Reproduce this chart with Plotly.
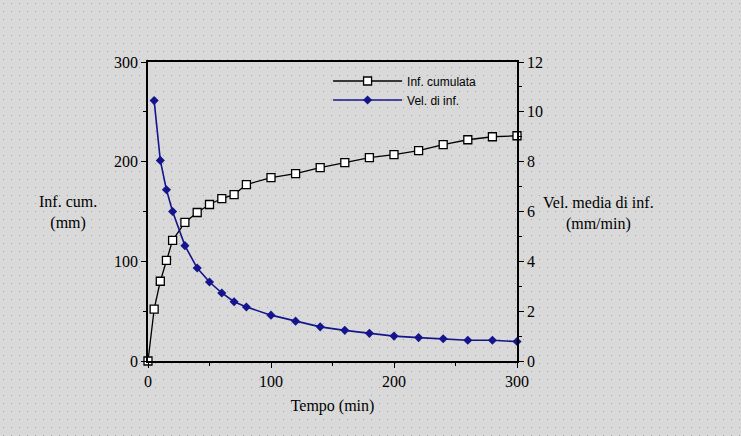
import plotly.graph_objects as go
import base64

# Data
tempo_cum = [0, 5, 10, 15, 20, 30, 40, 50, 60, 70, 80, 100, 120, 140, 160, 180, 200, 220, 240, 260, 280, 300]
inf_cumulata = [0, 52, 80, 101, 121, 139, 149, 157, 163, 167, 177, 184, 188, 194, 199, 204, 207, 211, 217, 222, 225, 226]

tempo_vel = [5, 10, 15, 20, 30, 40, 50, 60, 70, 80, 100, 120, 140, 160, 180, 200, 220, 240, 260, 280, 300]
vel_inf = [10.45, 8.05, 6.87, 6.0, 4.63, 3.73, 3.17, 2.73, 2.38, 2.17, 1.84, 1.6, 1.37, 1.23, 1.11, 1.0, 0.94, 0.89, 0.83, 0.83, 0.78]

left_ticks = [0, 100, 200, 300]
right_ticks = [0, 2, 4, 6, 8, 10, 12]
x_ticks = [0, 100, 200, 300]

BLUE = "#14148c"
SERIF = "Liberation Serif, Times New Roman, serif"
SANS = "Liberation Sans, Arial, sans-serif"

fig = go.Figure()
fig.add_trace(go.Scatter(
    x=tempo_cum, y=inf_cumulata, name="Inf. cumulata", mode="lines+markers",
    line=dict(color="black", width=1.3),
    marker=dict(symbol="square", size=8, color="white", line=dict(color="black", width=1.3)),
    cliponaxis=False, yaxis="y"))
fig.add_trace(go.Scatter(
    x=tempo_vel, y=vel_inf, name="Vel. di inf.", mode="lines+markers",
    line=dict(color=BLUE, width=1.6),
    marker=dict(symbol="diamond", size=7, color=BLUE, line=dict(width=0)),
    cliponaxis=False, yaxis="y2"))

# dotted background pattern
svg = ('<svg xmlns="http://www.w3.org/2000/svg" width="741" height="436">'
       '<defs><pattern id="p" width="8" height="8" patternUnits="userSpaceOnUse">'
       '<rect width="8" height="8" fill="#d9d9d9"/>'
       '<rect x="3" y="3" width="1" height="1" fill="#a5a5a5"/>'
       '</pattern></defs><rect width="741" height="436" fill="url(#p)"/></svg>')
uri = "data:image/svg+xml;base64," + base64.b64encode(svg.encode()).decode()

fig.add_layout_image(dict(source=uri, xref="paper", yref="paper", x=-148/369, y=1+62/299,
                          sizex=741/369, sizey=436/299, xanchor="left", yanchor="top",
                          sizing="stretch", layer="below"))

axis_common = dict(showgrid=False, zeroline=False, showline=True, linecolor="black", linewidth=1.5,
                   ticks="outside", ticklen=5, tickwidth=1.3, tickcolor="black",
                   tickfont=dict(family=SERIF, size=16, color="black"))

fig.update_layout(
    width=741, height=436,
    margin=dict(l=148, r=224, t=62, b=75),
    paper_bgcolor="#d6d6d6", plot_bgcolor="rgba(0,0,0,0)",
    showlegend=True,
    legend=dict(x=0.488, y=0.985, xanchor="left", yanchor="top", bgcolor="rgba(0,0,0,0)",
                font=dict(family=SANS, size=12, color="black"), tracegroupgap=0, itemwidth=69),
    xaxis=dict(range=[0, 300], tickvals=x_ticks, mirror=True,
               minor=dict(dtick=50, ticks="outside", ticklen=3, tickcolor="black"),
               title=dict(text="Tempo (min)", font=dict(family=SERIF, size=16, color="black"), standoff=11),
               **axis_common),
    yaxis=dict(range=[0, 300], tickvals=left_ticks,
               minor=dict(dtick=50, ticks="outside", ticklen=3, tickcolor="black"),
               **axis_common),
    yaxis2=dict(range=[0, 12], tickvals=right_ticks, overlaying="y", side="right",
                minor=dict(dtick=1, ticks="outside", ticklen=3, tickcolor="black"),
                **axis_common),
)

fig.add_annotation(text="Inf. cum.<br>(mm)", xref="paper", yref="paper",
                   x=(68 - 148) / 369, y=1 - (212 - 62) / 299, showarrow=False,
                   xanchor="center", yanchor="middle",
                   font=dict(family=SERIF, size=16, color="black"), align="center")
fig.add_annotation(text="Vel. media di inf.<br>(mm/min)", xref="paper", yref="paper",
                   x=(598 - 148) / 369, y=1 - (213 - 62) / 299, showarrow=False,
                   xanchor="center", yanchor="middle",
                   font=dict(family=SERIF, size=16, color="black"), align="center")

fig.write_html("out.html", config={"displayModeBar": False},
               post_script="document.body.style.margin='0';document.body.style.background='#d6d6d6';")
